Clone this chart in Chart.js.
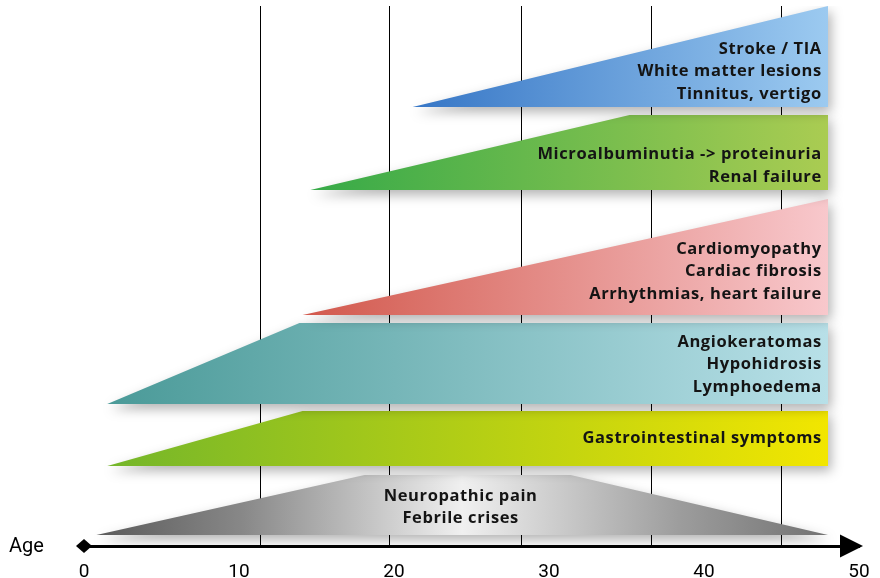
<!DOCTYPE html>
<html>
<head>
<meta charset="utf-8">
<script src="https://cdn.jsdelivr.net/npm/chart.js@4.4.1/dist/chart.umd.min.js"></script>
<style>
html, body { margin: 0; padding: 0; background: #fff; }
</style>
</head>
<body>
<canvas id="myChart" width="880" height="578"></canvas>
<script>
// Idades no eixo e linhas verticais de fundo
const ageTicks = [0, 10, 20, 30, 40, 50];
const gridAges = [11.4, 19.7, 28.2, 36.6, 45.0];

// Contorno de cada faixa: [idade, nível]
const strokeBand = [[21.2, 87.8], [48, 108], [48, 87.8]];
const renalBand = [[14.6, 71.2], [35.2, 86.2], [48, 86.2], [48, 71.2]];
const cardiacBand = [[14.1, 46.2], [48, 69.4], [48, 46.2]];
const skinBand = [[1.5, 28.4], [13.9, 44.6], [48, 44.6], [48, 28.4]];
const gastroBand = [[1.5, 16.0], [14.1, 27.0], [48, 27.0], [48, 16.0]];
const painBand = [[0.8, 2.2], [18.1, 14.2], [31.4, 14.2], [48, 2.2]];

// Textos de cada faixa
const strokeText = ['Stroke / TIA', 'White matter lesions', 'Tinnitus, vertigo'];
const renalText = ['Microalbuminutia -> proteinuria', 'Renal failure'];
const cardiacText = ['Cardiomyopathy', 'Cardiac fibrosis', 'Arrhythmias, heart failure'];
const skinText = ['Angiokeratomas', 'Hypohidrosis', 'Lymphoedema'];
const gastroText = ['Gastrointestinal symptoms'];
const painText = ['Neuropathic pain', 'Febrile crises'];

// Cores dos degradês (posição, cor) e posição dos textos
const estilos = [
    { cores: [[0, '#3676c6'], [1, '#9ccaf0']], texto: { x: 47.6, y: 99.4, align: 'right' } },
    { cores: [[0, '#36aa48'], [1, '#aacc52']], texto: { x: 47.6, y: 78.3, align: 'right' } },
    { cores: [[0, '#d2584c'], [1, '#f8c8cc']], texto: { x: 47.6, y: 59.4, align: 'right' } },
    { cores: [[0, '#4a9a98'], [1, '#b8e0e8']], texto: { x: 47.6, y: 40.8, align: 'right' } },
    { cores: [[0, '#74b62a'], [1, '#f2e600']], texto: { x: 47.6, y: 21.5, align: 'right' } },
    { cores: [[0, '#5a5a5a'], [0.2, '#888888'], [0.5, '#f0f0f0'], [0.8, '#9c9c9c'], [1, '#727272']],
      texto: { x: 24.3, y: 10.0, align: 'center' } }
];

const faixas = [strokeBand, renalBand, cardiacBand, skinBand, gastroBand, painBand];
const textos = [strokeText, renalText, cardiacText, skinText, gastroText, painText];

function degrade(context, pontos, cores) {
    const chart = context.chart;
    if (!chart.chartArea) return cores[0][1];
    const xs = pontos.map(p => p[0]);
    const x0 = chart.scales.x.getPixelForValue(Math.min(...xs));
    const x1 = chart.scales.x.getPixelForValue(Math.max(...xs));
    const g = chart.ctx.createLinearGradient(x0, 0, x1, 0);
    cores.forEach(c => g.addColorStop(c[0], c[1]));
    return g;
}

const datasets = faixas.map((pontos, i) => ({
    data: pontos.map(p => ({ x: p[0], y: p[1] })),
    fill: 'shape',
    borderColor: 'rgba(0,0,0,0)',
    borderWidth: 1,
    pointRadius: 0,
    tension: 0,
    backgroundColor: (context) => degrade(context, pontos, estilos[i].cores)
}));

const desenhos = {
    id: 'desenhos',
    beforeDatasetsDraw(chart) {
        const c = chart.ctx;
        c.save();
        c.shadowColor = 'rgba(0,0,0,0.3)';
        c.shadowBlur = 12;
        c.shadowOffsetX = 3;
        c.shadowOffsetY = 5;
    },
    afterDatasetsDraw(chart) {
        const c = chart.ctx;
        c.restore();
        const sx = chart.scales.x;
        const sy = chart.scales.y;
        const area = chart.chartArea;

        // textos das faixas
        c.save();
        c.font = 'bold 16.5px "Open Sans"';
        c.letterSpacing = '0.6px';
        c.fillStyle = '#141414';
        c.textBaseline = 'middle';
        textos.forEach((linhas, i) => {
            const pos = estilos[i].texto;
            const x = sx.getPixelForValue(pos.x);
            const y = sy.getPixelForValue(pos.y);
            c.textAlign = pos.align;
            linhas.forEach((t, k) => c.fillText(t, x, y + k * 22.6));
        });
        c.letterSpacing = '0px';

        // losango no início e seta no fim do eixo
        const y0 = area.bottom;
        const x0 = sx.getPixelForValue(0);
        c.fillStyle = '#000';
        c.beginPath();
        c.moveTo(x0 - 8, y0);
        c.lineTo(x0, y0 - 7);
        c.lineTo(x0 + 8, y0);
        c.lineTo(x0, y0 + 7);
        c.closePath();
        c.fill();
        const xt = area.right + 4;
        c.beginPath();
        c.moveTo(xt, y0);
        c.lineTo(xt - 23, y0 - 11.5);
        c.lineTo(xt - 23, y0 + 11.5);
        c.closePath();
        c.fill();

        // título do eixo
        c.font = '20px Roboto';
        c.textAlign = 'left';
        c.fillText('Age', 9, y0 + 1);
        c.restore();
    }
};

const myChart = new Chart(document.getElementById('myChart').getContext('2d'), {
    type: 'line',
    data: { datasets: datasets },
    options: {
        responsive: false,
        animation: false,
        events: [],
        layout: {
            padding: { top: 6, right: 21, bottom: 0, left: 84 }
        },
        plugins: {
            legend: { display: false },
            tooltip: { enabled: false }
        },
        scales: {
            x: {
                type: 'linear',
                min: 0,
                max: 50,
                afterBuildTicks: (axis) => { axis.ticks = ageTicks.map(v => ({ value: v })); },
                afterFit: (axis) => {
                    axis.height = 32;
                    axis.paddingLeft = 0;
                    axis.paddingRight = 0;
                },
                grid: { display: false, drawTicks: false },
                border: { display: true, color: '#000', width: 3 },
                ticks: {
                    color: '#000',
                    padding: 15,
                    maxRotation: 0,
                    font: { family: 'Roboto', size: 19 }
                }
            },
            xg: {
                type: 'linear',
                position: 'top',
                min: 0,
                max: 50,
                afterBuildTicks: (axis) => { axis.ticks = gridAges.map(v => ({ value: v })); },
                afterFit: (axis) => { axis.height = 0; },
                grid: { display: true, drawTicks: false, color: '#000', lineWidth: 1 },
                border: { display: false },
                ticks: { display: false }
            },
            y: {
                display: false,
                min: 0,
                max: 108
            }
        }
    },
    plugins: [desenhos]
});
</script>
</body>
</html>
